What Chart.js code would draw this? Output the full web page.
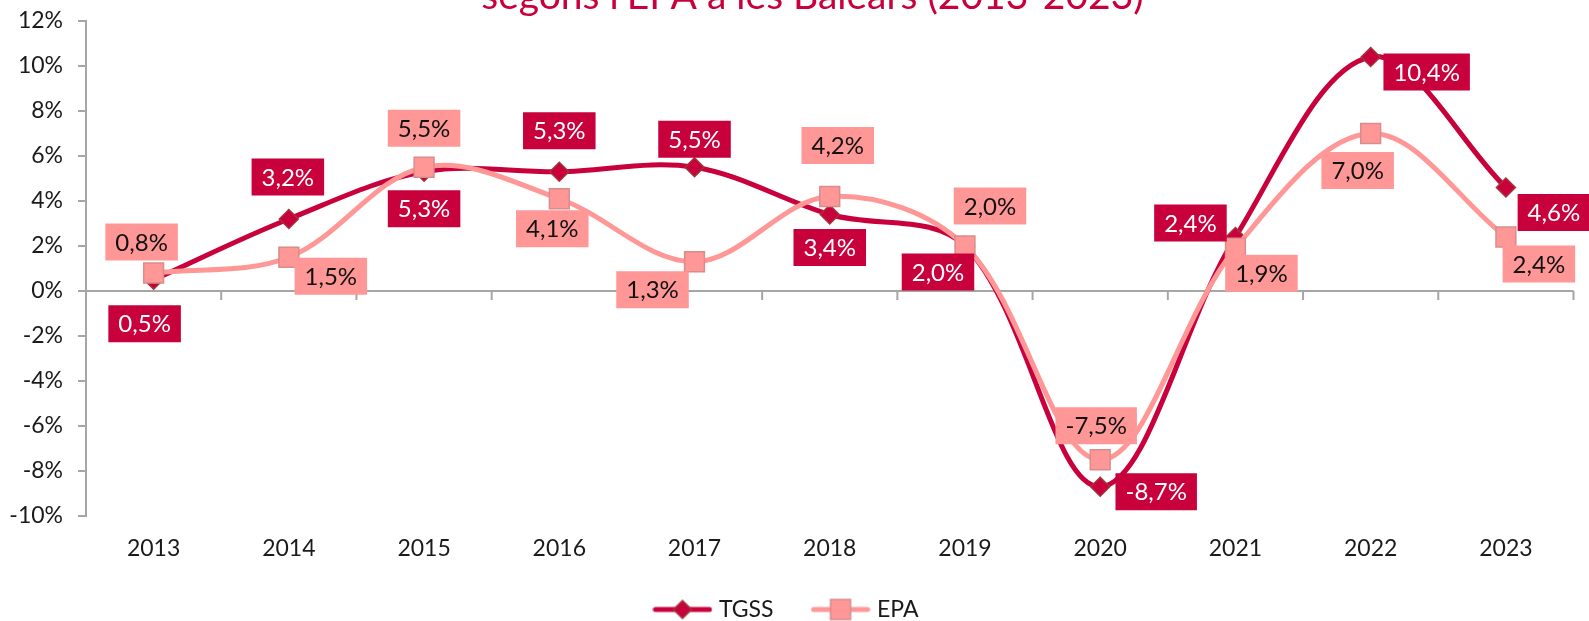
<!DOCTYPE html>
<html lang="ca">
<head>
<meta charset="UTF-8">
<title>TGSS i EPA a les Balears (2013-2023)</title>
<script src="https://cdn.jsdelivr.net/npm/chart.js"></script>
<style>
  html, body { margin: 0; padding: 0; background: #fff; }
  canvas { display: block; }
</style>
</head>
<body>
<canvas id="chart" width="1589" height="621"></canvas>
<script>
// chart data
const years = ['2013', '2014', '2015', '2016', '2017', '2018', '2019', '2020', '2021', '2022', '2023'];
const tgss = [0.5, 3.2, 5.3, 5.3, 5.5, 3.4, 2.0, -8.7, 2.4, 10.4, 4.6];
const epa = [0.8, 1.5, 5.5, 4.1, 1.3, 4.2, 2.0, -7.5, 1.9, 7.0, 2.4];
const titleText = "segons l'EPA a les Balears (2013-2023)";

// where each value label sits relative to its point (px)
const tgssLabelOffsets = [[-9, 44], [-1, -42], [0, 37], [0, -41], [0, -28], [0, 33], [-27, 26], [56, 5], [-45, -14], [56, 15], [48, 25]];
const epaLabelOffsets = [[-12, -31], [42, 19], [0, -39], [-7, 30], [-42, 28], [8, -51], [25, -40], [-4, -34], [26, 25], [-13, 37], [33, 27]];

const RED = '#C8003C';
const PINK = '#FF9797';
const FONT = 'Lato, "Noto Sans", sans-serif';

const fmt = v => v.toFixed(1).replace('.', ',') + '%';

// legend icons: a short line with the marker in the middle
function legendIcon(color, marker, border) {
    const c = document.createElement('canvas');
    c.width = 60; c.height = 24;
    const g = c.getContext('2d');
    g.strokeStyle = color;
    g.lineWidth = 5;
    g.lineCap = 'round';
    g.beginPath(); g.moveTo(3, 12); g.lineTo(57, 12); g.stroke();
    g.fillStyle = color;
    g.strokeStyle = border;
    g.lineWidth = 1.5;
    g.beginPath();
    if (marker === 'diamond') {
        g.moveTo(30, 3); g.lineTo(39, 12); g.lineTo(30, 21); g.lineTo(21, 12); g.closePath();
    } else {
        g.rect(20, 2, 20, 20);
    }
    g.fill(); g.stroke();
    return c;
}
const legendIcons = [legendIcon(RED, 'diamond', '#A0353A'), legendIcon(PINK, 'square', '#D88C8C')];

const titlePlugin = {
    id: 'cutTitle',
    afterDraw(chart) {
        const ctx = chart.ctx;
        ctx.save();
        ctx.font = '39px ' + FONT;
        ctx.fillStyle = RED;
        ctx.textAlign = 'center';
        ctx.textBaseline = 'alphabetic';
        ctx.fillText(titleText, chart.width / 2 + 18, 9);
        ctx.restore();
    }
};

// small tick marks hanging from the zero line between the categories
const zeroTicks = {
    id: 'zeroTicks',
    beforeDatasetsDraw(chart) {
        const x = chart.scales.x, y = chart.scales.y;
        const y0 = y.getPixelForValue(0);
        const ctx = chart.ctx;
        ctx.save();
        ctx.strokeStyle = '#A6A6A6';
        ctx.lineWidth = 2;
        ctx.beginPath();
        for (let i = 1; i <= years.length; i++) {
            const px = x.left + x.width * i / years.length;
            ctx.moveTo(px, y0);
            ctx.lineTo(px, y0 + 9);
        }
        ctx.stroke();
        ctx.restore();
    }
};

const valueLabels = {
    id: 'valueLabels',
    afterDatasetsDraw(chart) {
        const ctx = chart.ctx;
        const styles = [
            { bg: RED, fg: '#FFFFFF', offsets: tgssLabelOffsets },
            { bg: PINK, fg: '#111111', offsets: epaLabelOffsets }
        ];
        ctx.save();
        ctx.font = '24px ' + FONT;
        ctx.textAlign = 'center';
        ctx.textBaseline = 'middle';
        chart.data.datasets.forEach((ds, di) => {
            const st = styles[di];
            chart.getDatasetMeta(di).data.forEach((pt, i) => {
                const txt = fmt(ds.data[i]);
                const [dx, dy] = st.offsets[i];
                const w = ctx.measureText(txt).width + 20;
                const h = 37;
                const cx = pt.x + dx, cy = pt.y + dy;
                ctx.fillStyle = st.bg;
                ctx.fillRect(cx - w / 2, cy - h / 2, w, h);
                ctx.fillStyle = st.fg;
                ctx.fillText(txt, cx, cy + 1);
            });
        });
        ctx.restore();
    }
};

new Chart(document.getElementById('chart'), {
    type: 'line',
    data: {
        labels: years,
        datasets: [
            {
                label: 'TGSS',
                data: tgss,
                borderColor: RED,
                backgroundColor: RED,
                borderWidth: 5,
                tension: 0.35,
                pointStyle: 'rectRot',
                pointRadius: 9.5,
                pointHoverRadius: 9.5,
                pointBorderWidth: 1.5,
                pointBorderColor: '#A0353A',
                pointBackgroundColor: RED,
                order: 2,
                clip: false
            },
            {
                label: 'EPA',
                data: epa,
                borderColor: PINK,
                backgroundColor: PINK,
                borderWidth: 5,
                tension: 0.35,
                pointStyle: 'rect',
                pointRadius: 14,
                pointHoverRadius: 14,
                pointBorderWidth: 1.5,
                pointBorderColor: '#D88C8C',
                pointBackgroundColor: PINK,
                order: 1,
                clip: false
            }
        ]
    },
    options: {
        responsive: false,
        animation: false,
        devicePixelRatio: 1,
        layout: { padding: { top: 21, right: 13, bottom: -10, left: 0 } },
        plugins: {
            title: { display: false },
            tooltip: { enabled: false },
            legend: {
                position: 'bottom',
                labels: {
                    usePointStyle: true,
                    pointStyleWidth: 50,
                    padding: 42,
                    color: '#1a1a1a',
                    font: { family: FONT, size: 23 },
                    generateLabels: chart => chart.data.datasets.map((ds, i) => ({
                        text: ds.label,
                        pointStyle: legendIcons[i],
                        fillStyle: ds.backgroundColor,
                        strokeStyle: ds.borderColor,
                        lineWidth: 0,
                        hidden: false,
                        datasetIndex: i,
                        fontColor: '#1a1a1a'
                    }))
                }
            }
        },
        scales: {
            x: {
                offset: true,
                grid: { display: false, drawTicks: false, offset: true },
                border: { display: false },
                ticks: { color: '#1a1a1a', padding: 19, font: { family: FONT, size: 23 } },
                afterFit: s => { s.height = 40; }
            },
            y: {
                min: -10,
                max: 12,
                ticks: {
                    stepSize: 2,
                    padding: 15,
                    color: '#1a1a1a',
                    font: { family: FONT, size: 23 },
                    callback: v => v + '%'
                },
                grid: {
                    drawOnChartArea: true,
                    drawTicks: true,
                    tickLength: 8,
                    lineWidth: 2,
                    tickColor: '#A6A6A6',
                    color: c => (c.tick && c.tick.value === 0) ? '#A6A6A6' : 'rgba(0,0,0,0)'
                },
                border: { display: true, color: '#A6A6A6', width: 2 },
                afterFit: s => { s.width = 86; s.paddingTop = 0; s.paddingBottom = 0; }
            }
        }
    },
    plugins: [zeroTicks, valueLabels, titlePlugin]
});
</script>
</body>
</html>
